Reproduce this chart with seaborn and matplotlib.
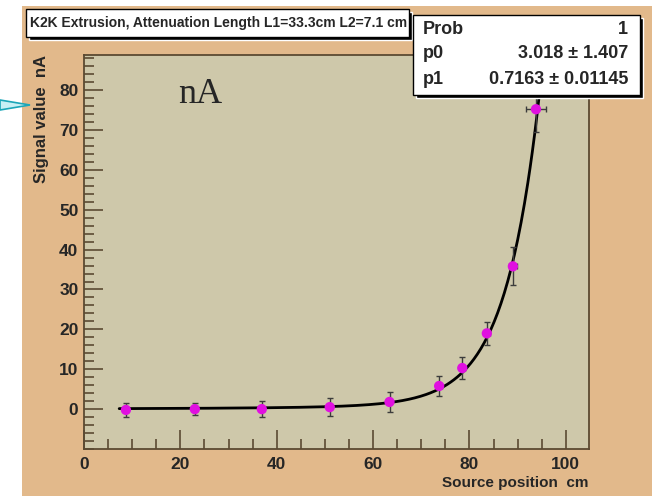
import matplotlib
matplotlib.use('Agg')

import matplotlib.pyplot as plt
import seaborn as sns
import numpy as np
from matplotlib.patches import Rectangle, Polygon
from matplotlib.ticker import MultipleLocator

# measured points (source position cm, signal nA)
positions = [8.7, 23.0, 36.9, 51.0, 63.4, 73.7, 78.5, 83.6, 89.0, 93.8]
signal = [-0.2, 0.0, 0.0, 0.5, 1.8, 5.8, 10.3, 19.0, 35.8, 75.2]
signal_err = [1.7, 1.5, 2.0, 2.2, 2.5, 2.5, 2.7, 2.8, 4.8, 5.8]
position_err = [0.4, 0.4, 0.4, 0.4, 0.4, 0.5, 0.5, 0.6, 0.8, 2.0]

# two-length attenuation fit (from the title)
L1, L2 = 33.3, 7.1
amp_long, amp_short, x_ref = 1.7, 72.0, 94.0

title = 'K2K Extrusion, Attenuation Length L1=33.3cm L2=7.1 cm'
stats_names = ['Prob', 'p0', 'p1']
stats_values = ['1', '3.018 \u00b1 1.407', '0.7163 \u00b1 0.01145']

W, H = 652, 496
TAN = '#E2B98B'
PLOT_BG = '#CEC8AA'
FRAME = '#5b4a32'


def fx(px):
    return px / W


def fy(py):
    return 1 - py / H


def root_box(fig, x0, y0, x1, y1):
    shadow = Rectangle((fx(x0 + 3), fy(y1 + 3)), (x1 - x0) / W, (y1 - y0) / H,
                       transform=fig.transFigure, facecolor='black', zorder=5)
    box = Rectangle((fx(x0), fy(y1)), (x1 - x0) / W, (y1 - y0) / H,
                    transform=fig.transFigure, facecolor='white',
                    edgecolor='black', linewidth=1, zorder=6)
    fig.patches.extend([shadow, box])


sns.set_style('ticks')
plt.rcParams['font.family'] = ['Liberation Sans', 'DejaVu Sans']
plt.rcParams['font.weight'] = 'bold'

fig = plt.figure(figsize=(W / 100, H / 100), dpi=100)
fig.patch.set_facecolor('white')
fig.patches.append(Rectangle((fx(22), 0), 1, fy(6), transform=fig.transFigure,
                             facecolor=TAN, edgecolor='none', zorder=-5))

ax = fig.add_axes([fx(84), fy(449), 505 / W, 394 / H])
ax.set_facecolor(PLOT_BG)

# fit curve
x_fit = np.linspace(7.3, 100, 400)
y_fit = amp_long * np.exp((x_fit - x_ref) / L1) + amp_short * np.exp((x_fit - x_ref) / L2)
sns.lineplot(x=x_fit, y=y_fit, color='black', linewidth=2, ax=ax, zorder=2)

ax.errorbar(positions, signal, xerr=position_err, yerr=signal_err, fmt='none',
            ecolor='#3c3c3c', elinewidth=1, capsize=2, capthick=1, zorder=3)
sns.scatterplot(x=positions, y=signal, color='#e010e0', s=55, edgecolor='none',
                ax=ax, zorder=4)

ax.set_xlim(0, 104.8)
ax.set_ylim(-10, 88.8)
ax.xaxis.set_major_locator(MultipleLocator(20))
ax.xaxis.set_minor_locator(MultipleLocator(5))
ax.yaxis.set_major_locator(MultipleLocator(10))
ax.yaxis.set_minor_locator(MultipleLocator(2))
ax.set_yticks([0, 10, 20, 30, 40, 50, 60, 70, 80])
ax.tick_params(which='both', direction='in', color=FRAME, width=1.2,
               top=False, right=False, labelsize=12.5)
ax.tick_params(which='major', length=14)
ax.tick_params(which='minor', length=7)
ax.tick_params(axis='x', pad=6)
ax.tick_params(axis='y', pad=4)
for s in ax.spines.values():
    s.set_color(FRAME)
    s.set_linewidth(1.3)

ax.set_xlabel('Source position  cm', loc='right', fontsize=11, fontweight='bold')
ax.xaxis.set_label_coords(1.0, -0.068)
ax.set_ylabel('Signal value  nA', loc='top', fontsize=12, fontweight='bold')
ax.yaxis.set_label_coords(-0.07, 1.0)

# title box
root_box(fig, 26, 9, 409, 37)
fig.text(fx(30), fy(23), title, fontsize=10, fontweight='bold', va='center',
         ha='left', zorder=7)

# stats box
root_box(fig, 413, 15, 640, 95)
for i, (name, val) in enumerate(zip(stats_names, stats_values)):
    yy = 29 + i * 25
    fig.text(fx(423), fy(yy), name, fontsize=13, fontweight='bold', va='center',
             ha='left', zorder=7)
    fig.text(fx(628), fy(yy), val, fontsize=13, fontweight='bold', va='center',
             ha='right', zorder=7)

# cyan pointer and annotation
fig.patches.append(Polygon([(fx(0), fy(100)), (fx(30), fy(105)), (fx(0), fy(110))],
                           closed=True, transform=fig.transFigure,
                           facecolor='#c8f0f5', edgecolor='#1aa6b8',
                           linewidth=1.2, zorder=7))
fig.text(fx(200), fy(103), 'nA', fontsize=26, fontweight='normal',
         family=['Liberation Serif', 'DejaVu Serif'], ha='center', va='baseline',
         zorder=7)

fig.savefig('out.png', dpi=100)
